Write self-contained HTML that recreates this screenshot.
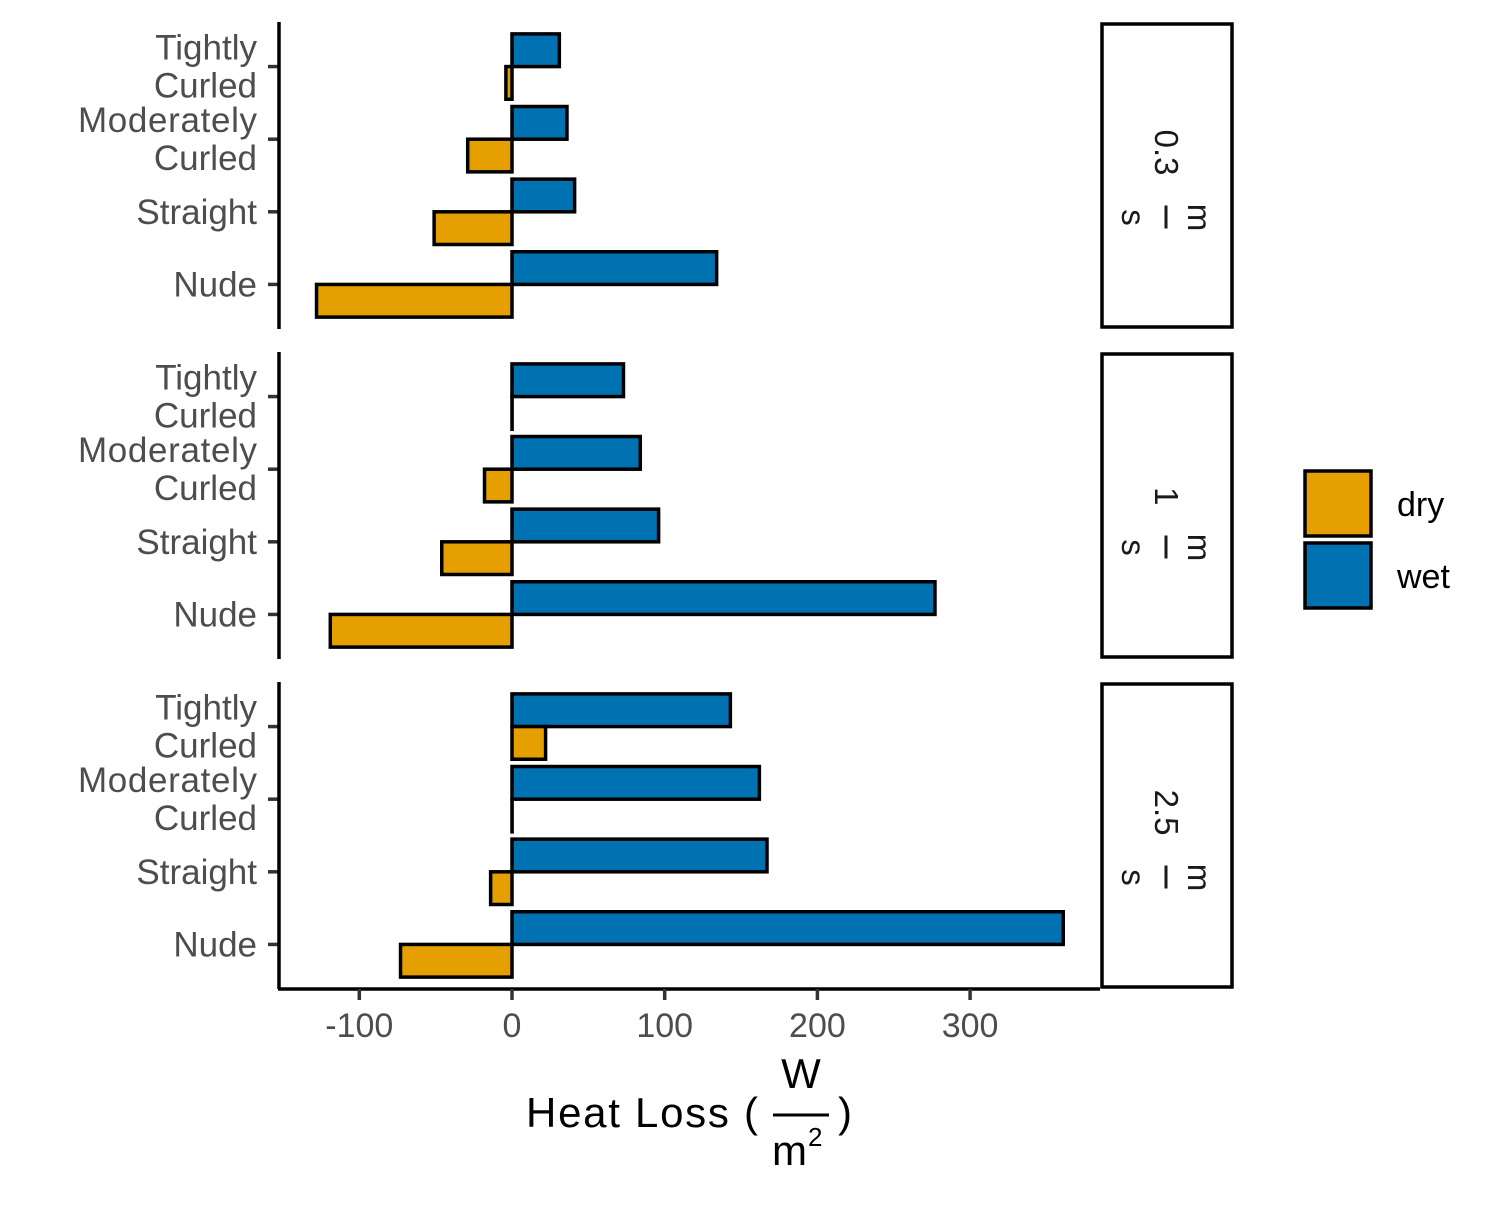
<!DOCTYPE html>
<html><head><meta charset="utf-8"><style>
body{margin:0;background:#fff}
svg text{font-family:"Liberation Sans",Arial,sans-serif}
</style></head><body>
<svg id="chart" width="1500" height="1200" xmlns="http://www.w3.org/2000/svg"></svg>
<script>
const categories = ["Nude","Straight","Moderately\nCurled","Tightly\nCurled"];
const panels = ["0.3","1","2.5"];
const wetValues = [[134,41,36,31],[277,96,84,73],[361,167,162,143]];
const dryValues = [[-128,-51,-29,-4],[-119,-46,-18,0],[-73,-14,0,22]];
const xTicks = [-100,0,100,200,300];
const seriesNames = ["dry","wet"];
const colors = {dry:"#E69F00", wet:"#0072B2"};

const svg = document.getElementById('chart');
const NS = "http://www.w3.org/2000/svg";
function el(tag, attrs, parent){const e=document.createElementNS(NS,tag);for(const k in attrs)e.setAttribute(k,attrs[k]);(parent||svg).appendChild(e);return e;}
const x0=279, x1=1100;
function xs(v){return 512 + v*1.527;}
const panelTops=[23,353,683], panelH=305;
const step = panelH/4.2;
function ys(p,i){return panelTops[p]+panelH - step*(0.6+i);}
const barH = step*0.45;

panels.forEach((pl,p)=>{
  const top=panelTops[p];
  const g=el('g',{});
  
  
  categories.forEach((c,i)=>{
    const yc=ys(p,i);
    const wv=wetValues[p][i], dv=dryValues[p][i];
    const wb=el('rect',{x:Math.min(xs(0),xs(wv)),y:yc-barH,width:Math.max(Math.abs(xs(wv)-xs(0)),0.1),height:barH,fill:colors.wet,stroke:"#000","stroke-width":3.5},g);
    
    
    const db=el('rect',{x:Math.min(xs(0),xs(dv)),y:yc,width:Math.max(Math.abs(xs(dv)-xs(0)),0.1),height:barH,fill:colors.dry,stroke:"#000","stroke-width":3.5},g);
    
    
    el('line',{x1:268,x2:279,y1:yc,y2:yc,stroke:"#333","stroke-width":3.5},g);
    const lines=c.split('\n');
    lines.forEach((ln,k)=>{
      const t=el('text',{x:257,y:yc+12+(k-(lines.length-1)/2)*38,'text-anchor':'end','font-size':35,fill:'#4d4d4d',textLength:ln.length>9?179:null},g);
      if(ln.length<=9) t.removeAttribute('textLength');
      t.textContent=ln;
      
      
    });
  });
  el('line',{x1:x0,x2:x0,y1:top-1,y2:top+panelH+1,stroke:"#000","stroke-width":3.5},g);
  const s=el('g',{},g);
  
  
  el('rect',{x:1102,y:top+1,width:130,height:panelH-2,fill:"#fff",stroke:"#000","stroke-width":3.5},s);
  const cy=top+panelH/2;
  const tg=el('g',{transform:`translate(1166,${cy}) rotate(90)`},s);
  const t1=el('text',{x:0,y:11,'text-anchor':'end','font-size':33,fill:'#1a1a1a'},tg);t1.textContent=pl;
  el('line',{x1:30,x2:53,y1:0,y2:0,stroke:'#1a1a1a','stroke-width':3},tg);
  const tn=el('text',{x:42,y:-22,'text-anchor':'middle','font-size':33,fill:'#1a1a1a'},tg);tn.textContent='m';
  const td=el('text',{x:42,y:44,'text-anchor':'middle','font-size':33,fill:'#1a1a1a'},tg);td.textContent='s';
});
const ax=el('g',{});


el('line',{x1:x0-1,x2:x1,y1:989,y2:989,stroke:"#000","stroke-width":3.5},ax);
xTicks.forEach(v=>{
  el('line',{x1:xs(v),x2:xs(v),y1:989,y2:1000,stroke:"#333","stroke-width":3.5},ax);
  const t=el('text',{x:xs(v),y:1037,'text-anchor':'middle','font-size':34,fill:'#4d4d4d'},ax);
  t.textContent=v;
  
  
});
const at=el('g',{});


let t=el('text',{x:526,y:1127,'font-size':42,fill:'#000',textLength:232},at);t.textContent='Heat Loss (';
t=el('text',{x:801,y:1088,'text-anchor':'middle','font-size':42,fill:'#000'},at);t.textContent='W';
el('line',{x1:773,x2:829,y1:1115,y2:1115,stroke:'#000','stroke-width':3},at);
t=el('text',{x:772,y:1165,'font-size':42,fill:'#000'},at);t.textContent='m';
t=el('text',{x:808,y:1146,'font-size':26,fill:'#000'},at);t.textContent='2';
t=el('text',{x:838,y:1127,'font-size':42,fill:'#000'},at);t.textContent=')';
seriesNames.forEach((n,i)=>{
  const lg=el('g',{});
  
  
  const y=471+i*72;
  el('rect',{x:1305,y:y,width:66,height:65,fill:colors[n],stroke:'#000','stroke-width':3.5},lg);
  const tt=el('text',{x:1397,y:y+45,'font-size':34,fill:'#000'},lg);tt.textContent=n;
});
</script>
</body></html>
